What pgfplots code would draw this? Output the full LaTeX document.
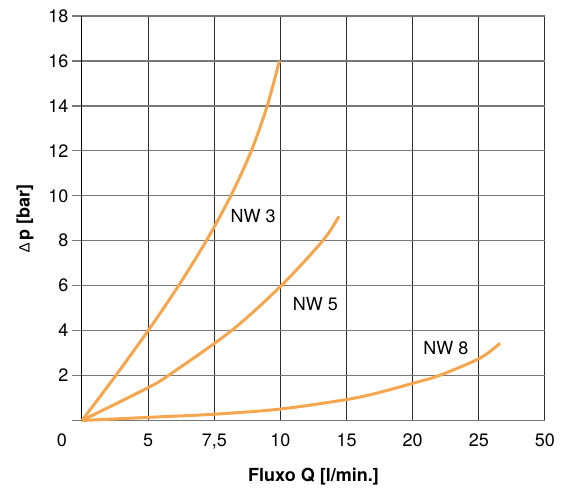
\documentclass[border=0pt]{standalone}
\usepackage{fontspec}
\setmainfont{TeX Gyre Heros}
\newfontfamily\lib{Liberation Sans}
\usepackage{pgfplots}
\pgfplotsset{compat=1.18}
\definecolor{curve}{RGB}{246,166,78}
\definecolor{hgrid}{RGB}{120,120,120}
\definecolor{vgrid}{RGB}{45,45,45}

\begin{document}
\begin{tikzpicture}
\useasboundingbox (-82pt,-72.5pt) rectangle (481pt,420.5pt);
\begin{axis}[
    scale only axis,
    width=463pt, height=404.5pt,
    xmin=0, xmax=35, ymin=0, ymax=18,
    xtick={0,5,...,35},
    xticklabels={\llap{0\hspace{15pt}},5,{7,5},10,15,20,25,50},
    ytick={0,2,...,18},
    yticklabels={,2,4,6,8,10,12,14,16,18},
    font=\fontsize{18}{21}\selectfont,
    axis lines=left,
    axis line style={-},
    x axis line style={hgrid, line width=1.3pt},
    y axis line style={black, line width=1pt},
    grid=major,
    major x grid style={vgrid, line width=1pt},
    major y grid style={hgrid, line width=1.3pt},
    tick align=outside,
    major tick length=10pt,
    x tick style={draw=none},
    y tick style={hgrid, line width=1.3pt},
    xlabel={\bfseries Fluxo Q [l/min.]},
    ylabel={{\lib\fontsize{15}{18}\selectfont ∆}\,\bfseries p [bar]},
    xlabel style={at={(axis description cs:0.5,-0.138)}, anchor=center},
    ylabel style={at={(axis description cs:-0.123,0.5)}, anchor=center, rotate=0},
    clip=false,
]
% NW 3
\addplot[curve, line width=3pt, smooth] coordinates {
    (0,0) (2.55,2) (5.0,4) (7.3,6) (9.4,8) (11.25,10) (12.8,12) (14.0,14) (14.92,16)
};
% NW 5
\addplot[curve, line width=3pt, smooth] coordinates {
    (0,0) (4.89,1.43) (6.52,2) (11.3,4) (15.06,6) (18.2,8) (19.43,9.09)
};
% NW 8
\addplot[curve, line width=3pt, smooth] coordinates {
    (0,0) (5,0.14) (10,0.28) (15,0.51) (20.08,0.94) (22.5,1.25) (25.15,1.68) (27.0,2.0) (30.1,2.78) (31.6,3.44)
};
\node at (axis cs:12.93,9.11) {NW 3};
\node at (axis cs:17.65,5.2) {NW 5};
\node at (axis cs:27.5,3.21) {NW 8};
\end{axis}
\end{tikzpicture}
\end{document}
